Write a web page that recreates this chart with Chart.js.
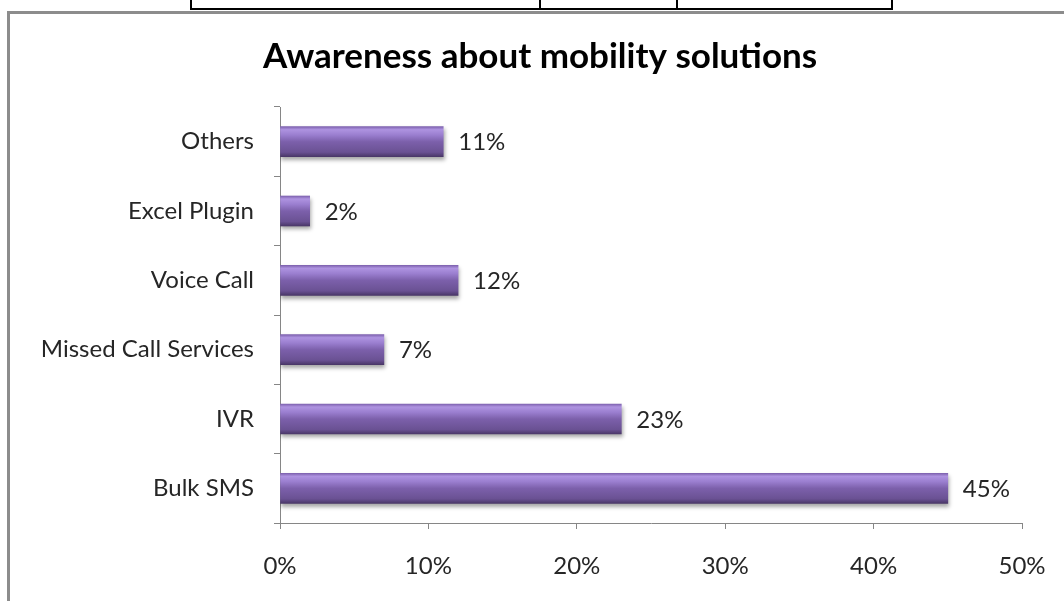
<!DOCTYPE html>
<html>
<head>
<meta charset="utf-8">
<script src="https://cdn.jsdelivr.net/npm/chart.js@4.4.1/dist/chart.umd.min.js"></script>
<style>
  html, body { margin: 0; padding: 0; background: #fff; }
  body { width: 1064px; height: 601px; position: relative; overflow: hidden; }
  #frame { position: absolute; left: 7px; top: 11px; width: 1100px; height: 640px;
           border: 3px solid #8c8c8c; box-sizing: border-box; }
  .tline { position: absolute; background: #000; }
  #wrap { position: absolute; left: 0; top: 0; width: 1064px; height: 601px; }
</style>
</head>
<body>
<!-- remains of the table above the chart -->
<div class="tline" style="left:190px; top:8px; width:703px; height:2px;"></div>
<div class="tline" style="left:190px; top:0; width:2px; height:10px;"></div>
<div class="tline" style="left:539px; top:0; width:2px; height:10px;"></div>
<div class="tline" style="left:676px; top:0; width:2px; height:10px;"></div>
<div class="tline" style="left:891px; top:0; width:2px; height:10px;"></div>
<div id="frame"></div>
<div id="wrap"><canvas id="chart" width="1064" height="601"></canvas></div>
<script>
const categories = ['Others', 'Excel Plugin', 'Voice Call', 'Missed Call Services', 'IVR', 'Bulk SMS'];
const awareness = [11, 2, 12, 7, 23, 45];
const xTicks = [0, 10, 20, 30, 40, 50];

const FONT = "Lato, 'Open Sans', sans-serif";
const TEXT = '#262626';
const BAR_HALF = 15;
const TITLE_CENTER = 540;

// vertical purple gradient per bar, like the bevelled office bars
function barFill(context) {
  const chart = context.chart;
  const yScale = chart.scales.y;
  if (!yScale || context.dataIndex === undefined) return '#8064a2';
  const c = yScale.getPixelForValue(context.dataIndex);
  if (!isFinite(c)) return '#8064a2';
  const g = chart.ctx.createLinearGradient(0, c - BAR_HALF, 0, c + BAR_HALF);
  g.addColorStop(0, '#7f63b0');
  g.addColorStop(0.1, '#ae93e0');
  g.addColorStop(0.28, '#9a7ecf');
  g.addColorStop(0.5, '#7c60ab');
  g.addColorStop(0.85, '#6a5193');
  g.addColorStop(1, '#4a3768');
  return g;
}

const valueLabels = {
  id: 'valueLabels',
  afterDatasetsDraw(chart) {
    const ctx = chart.ctx;
    const meta = chart.getDatasetMeta(0);
    ctx.save();
    ctx.font = '24px ' + FONT;
    ctx.fillStyle = TEXT;
    ctx.textBaseline = 'middle';
    ctx.textAlign = 'left';
    meta.data.forEach((bar, i) => {
      ctx.fillText(awareness[i] + '%', bar.x + 15, bar.y + 1);
    });
    ctx.restore();
  }
};

const barShadow = {
  id: 'barShadow',
  beforeDatasetsDraw(chart) {
    const ctx = chart.ctx;
    ctx.save();
    ctx.shadowColor = 'rgba(0,0,0,0.35)';
    ctx.shadowOffsetY = 3;
    ctx.shadowOffsetX = 1;
    ctx.shadowBlur = 4;
  },
  afterDatasetsDraw(chart) {
    chart.ctx.restore();
  }
};

// the title in the original sits a bit right of the canvas centre
const shiftTitle = {
  id: 'shiftTitle',
  afterLayout(chart) {
    const t = chart.titleBlock;
    if (!t) return;
    t.left = 2 * TITLE_CENTER - t.right;
    t.width = t.right - t.left;
  }
};

new Chart(document.getElementById('chart'), {
  type: 'bar',
  data: {
    labels: categories,
    datasets: [{
      data: awareness,
      backgroundColor: barFill,
      borderWidth: 0,
      barThickness: 30
    }]
  },
  options: {
    indexAxis: 'y',
    responsive: false,
    animation: false,
    devicePixelRatio: 1,
    layout: { padding: { left: 0, right: 42, top: 0, bottom: 0 } },
    plugins: {
      legend: { display: false },
      tooltip: { enabled: false },
      title: {
        display: true,
        text: 'Awareness about mobility solutions',
        color: '#000',
        font: { family: FONT, size: 35, weight: 'bold' },
        padding: { top: 36, bottom: 29 }
      }
    },
    scales: {
      x: {
        min: 0,
        max: 50,
        afterBuildTicks: s => { s.ticks = xTicks.map(v => ({ value: v })); },
        afterFit: s => { s.height = 78; s.paddingLeft = 0; s.paddingRight = 0; },
        grid: { drawOnChartArea: false, color: '#868686', tickLength: 6, tickColor: '#868686' },
        border: { color: '#868686', width: 1 },
        ticks: {
          color: TEXT,
          padding: 23,
          font: { family: FONT, size: 24 },
          callback: v => v + '%'
        }
      },
      y: {
        afterFit: s => { s.width = 280; },
        grid: { drawOnChartArea: false, offset: true, color: '#868686', tickLength: 6, tickColor: '#868686' },
        border: { color: '#868686', width: 1 },
        ticks: {
          color: TEXT,
          padding: 20,
          font: { family: FONT, size: 24 }
        }
      }
    }
  },
  plugins: [barShadow, valueLabels, shiftTitle]
});
</script>
</body>
</html>
